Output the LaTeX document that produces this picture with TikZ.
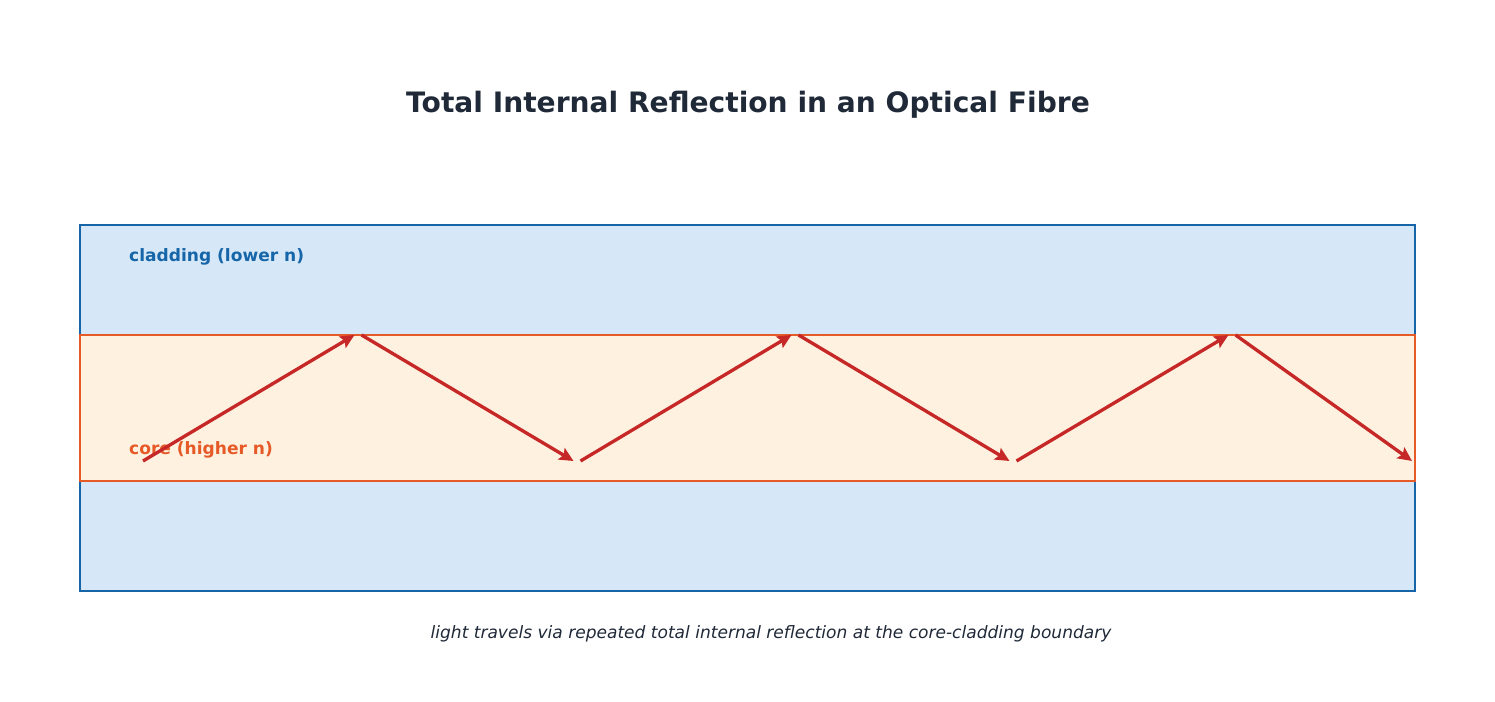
\documentclass[tikz,border=0pt]{standalone}
\usepackage{fontspec}
\setmainfont{DejaVu Sans}
\usepackage{xcolor}
\usetikzlibrary{arrows.meta}
\definecolor{titlecol}{HTML}{1F2937}
\definecolor{cladline}{HTML}{1565A8}
\definecolor{cladfill}{HTML}{D6E8F7}
\definecolor{coreline}{HTML}{E65A28}
\definecolor{corefill}{HTML}{FEF1DF}
\definecolor{raycol}{HTML}{C62828}
\tikzset{
  ray/.style={raycol, line width=1.9pt, -{Stealth[length=8pt,width=7.5pt,inset=1.5pt]}},
  label text/.style={anchor=west, font=\bfseries\fontsize{9.7}{11}\selectfont}
}

\begin{document}
\begin{tikzpicture}[x=0.02cm, y=-0.02cm]
            \useasboundingbox (0,0) rectangle (1495,702);
            \node[titlecol, font=\bfseries\fontsize{16}{19}\selectfont] (title) at (748,105) {Total Internal Reflection in an Optical Fibre};
            \draw[cladline, fill=cladfill, line width=1.4pt] (80,225) rectangle (1415,591);
            \draw[coreline, fill=corefill, line width=1.4pt] (80,335) rectangle (1415,481);
            \node[label text, cladline] (clad) at (123,257) {cladding (lower n)};
            \node[label text, coreline] (core) at (123,450) {core (higher n)};
            % bounce points on the core boundary
            \foreach \i/\x/\y in {0/143/461, 1/358/335, 2/577/461, 3/795/335, 4/1013/461, 5/1232/335, 6/1412/461}
              \coordinate (p\i) at (\x,\y);
            \draw[ray] (p0) -- ([xshift=-2pt]p1);
            \draw[ray] ([xshift=2pt]p1) -- ([xshift=-2pt]p2);
            \draw[ray] ([xshift=2pt]p2) -- ([xshift=-2pt]p3);
            \draw[ray] ([xshift=2pt]p3) -- ([xshift=-2pt]p4);
            \draw[ray] ([xshift=2pt]p4) -- ([xshift=-2pt]p5);
            \draw[ray] ([xshift=2pt]p5) -- (p6);
            \node[titlecol, font=\itshape\fontsize{9.7}{11}\selectfont] (caption) at (771,634) {light travels via repeated total internal reflection at the core-cladding boundary};
\end{tikzpicture}
\end{document}
